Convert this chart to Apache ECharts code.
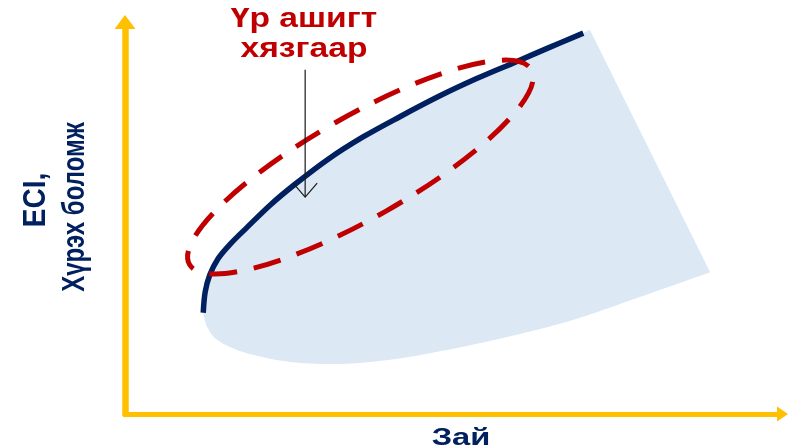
<!DOCTYPE html>
<html>
<head>
<meta charset="utf-8">
<script src="https://cdn.jsdelivr.net/npm/echarts@6/dist/echarts.min.js"></script>
<style>
  html, body { margin: 0; padding: 0; background: #fff; }
  #chart { width: 788px; height: 448px; }
</style>
</head>
<body>
<div id="chart"></div>
<script>
// data units: x 0..100, y 0..60
// efficient frontier (navy curve)
const frontierX = [11.9, 12.2, 12.9, 14.1, 16.0, 18.6, 22.1, 25.9, 30.9, 36.2, 41.8, 47.9, 53.4, 59.0, 64.3, 69.7];
const frontierY = [15.5, 18.7, 21.3, 23.7, 26.0, 28.6, 32.0, 35.2, 39.0, 42.4, 45.5, 48.7, 51.3, 53.7, 56.0, 58.3];

// feasible region: right edge, then lower edge back to the frontier start
const regionRightX = [70.7, 89.0];
const regionRightY = [58.8, 21.7];
const regionBottomX = [89.0, 78.3, 68.1, 58.1, 47.9, 40.3, 32.7, 25.1, 20.1, 16.3, 13.8, 12.5, 11.9];
const regionBottomY = [21.7, 17.9, 14.4, 11.8, 9.6, 8.3, 7.65, 7.96, 8.9, 10.1, 11.5, 13.3, 15.5];

// dashed ellipse: centre, end of major axis, end of minor axis
const ellipseCenter = [35.8, 37.8];
const ellipseMajorEnd = [61.8, 52.7];
const ellipseMinorEnd = [32.0, 44.6];

// annotation pointer: x, y from / to
const pointerX = 27.4;
const pointerY = [52.7, 33.2];

const SMOOTH = 0.35;
const FONT = '"Liberation Sans", Arial, sans-serif';

// same control-point rule as the line series' smooth option
function curveTo(pts, s) {
  const n = pts.length;
  const cp = pts.map((p, i) => {
    if (i === 0 || i === n - 1) return [p, p];
    const a = pts[i - 1], b = pts[i + 1];
    const vx = (b[0] - a[0]) * s, vy = (b[1] - a[1]) * s;
    const lp = Math.hypot(p[0] - a[0], p[1] - a[1]);
    const ln = Math.hypot(b[0] - p[0], b[1] - p[1]);
    const r = ln / (lp + ln);
    return [[p[0] - vx * (1 - r), p[1] - vy * (1 - r)], [p[0] + vx * r, p[1] + vy * r]];
  });
  let d = '';
  for (let i = 1; i < n; i++) {
    const c1 = cp[i - 1][1], c2 = cp[i][0], p = pts[i];
    d += ' C' + [c1[0], c1[1], c2[0], c2[1], p[0], p[1]].join(' ');
  }
  return d;
}

const chart = echarts.init(document.getElementById('chart'));

chart.setOption({
  animation: false,
  grid: { left: 125, right: 5.5, top: 22, bottom: 34 },
  xAxis: {
    type: 'value', min: 0, max: 100,
    axisLine: { show: true, symbol: ['none', 'triangle'], symbolSize: [15, 11], lineStyle: { color: '#FFC000', width: 5 } },
    axisTick: { show: false }, axisLabel: { show: false }, splitLine: { show: false }
  },
  yAxis: {
    type: 'value', min: 0, max: 60,
    axisLine: { show: true, symbol: ['none', 'triangle'], symbolSize: [21, 14], lineStyle: { color: '#FFC000', width: 6.5 } },
    axisTick: { show: false }, axisLabel: { show: false }, splitLine: { show: false }
  },
  graphic: [
    {
      type: 'text', x: 304, y: 34, scaleX: 1.2, z: 100,
      style: { text: 'Үр ашигт\nхязгаар', font: 'bold 28px ' + FONT, fill: '#C00000', align: 'center', verticalAlign: 'middle', textAlign: 'center', textVerticalAlign: 'middle', lineHeight: 30 }
    },
    {
      type: 'text', x: 461, y: 438, scaleX: 1.36, z: 100,
      style: { text: 'Зай', font: 'bold 24px ' + FONT, fill: '#002060', align: 'center', verticalAlign: 'middle', textAlign: 'center', textVerticalAlign: 'middle' }
    },
    {
      type: 'text', x: 36, y: 200, rotation: Math.PI / 2, scaleY: 1.15, z: 100,
      style: { text: 'ECI,', font: 'bold 28px ' + FONT, fill: '#002060', align: 'center', verticalAlign: 'middle', textAlign: 'center', textVerticalAlign: 'middle' }
    },
    {
      type: 'text', x: 75, y: 207, rotation: Math.PI / 2, scaleY: 1.3, z: 100,
      style: { text: 'Хүрэх боломж', font: 'bold 24px ' + FONT, fill: '#002060', align: 'center', verticalAlign: 'middle', textAlign: 'center', textVerticalAlign: 'middle' }
    }
  ],
  series: [
    {
      type: 'custom',
      z: 1,
      silent: true,
      data: [[0, 0]],
      renderItem: (params, api) => {
        const top = frontierX.map((x, i) => api.coord([x, frontierY[i]]));
        const right = regionRightX.map((x, i) => api.coord([x, regionRightY[i]]));
        const bottom = regionBottomX.map((x, i) => api.coord([x, regionBottomY[i]]));
        const d = 'M' + top[0].join(' ') + curveTo(top, SMOOTH) +
          right.map(p => ' L' + p.join(' ')).join('') +
          curveTo(bottom, SMOOTH) + ' Z';
        return { type: 'path', shape: { pathData: d }, style: { fill: '#DDE8F5' } };
      }
    },
    {
      type: 'line',
      z: 2,
      silent: true,
      smooth: SMOOTH,
      showSymbol: false,
      data: frontierX.map((x, i) => [x, frontierY[i]]),
      lineStyle: { color: '#002060', width: 5.5 }
    },
    {
      type: 'custom',
      z: 3,
      silent: true,
      data: [[0, 0]],
      renderItem: (params, api) => {
        const c = api.coord(ellipseCenter);
        const m = api.coord(ellipseMajorEnd);
        const n = api.coord(ellipseMinorEnd);
        return {
          type: 'ellipse',
          x: c[0], y: c[1],
          rotation: Math.atan2(c[1] - m[1], m[0] - c[0]),
          shape: { cx: 0, cy: 0, rx: Math.hypot(m[0] - c[0], m[1] - c[1]), ry: Math.hypot(n[0] - c[0], n[1] - c[1]) },
          style: { fill: 'none', stroke: '#C00000', lineWidth: 5, lineDash: [28, 17], lineDashOffset: 14 }
        };
      }
    },
    {
      type: 'custom',
      z: 4,
      silent: true,
      data: [[0, 0]],
      renderItem: (params, api) => {
        const p0 = api.coord([pointerX, pointerY[0]]);
        const p1 = api.coord([pointerX, pointerY[1]]);
        return {
          type: 'group',
          children: [
            { type: 'line', shape: { x1: p0[0], y1: p0[1], x2: p1[0], y2: p1[1] }, style: { stroke: '#1a1a1a', lineWidth: 1.2 } },
            { type: 'polyline', shape: { points: [[p1[0] - 12, p1[1] - 14], [p1[0], p1[1]], [p1[0] + 12, p1[1] - 14]] }, style: { stroke: '#1a1a1a', lineWidth: 1.2, fill: 'none' } }
          ]
        };
      }
    }
  ]
});
</script>
</body>
</html>
